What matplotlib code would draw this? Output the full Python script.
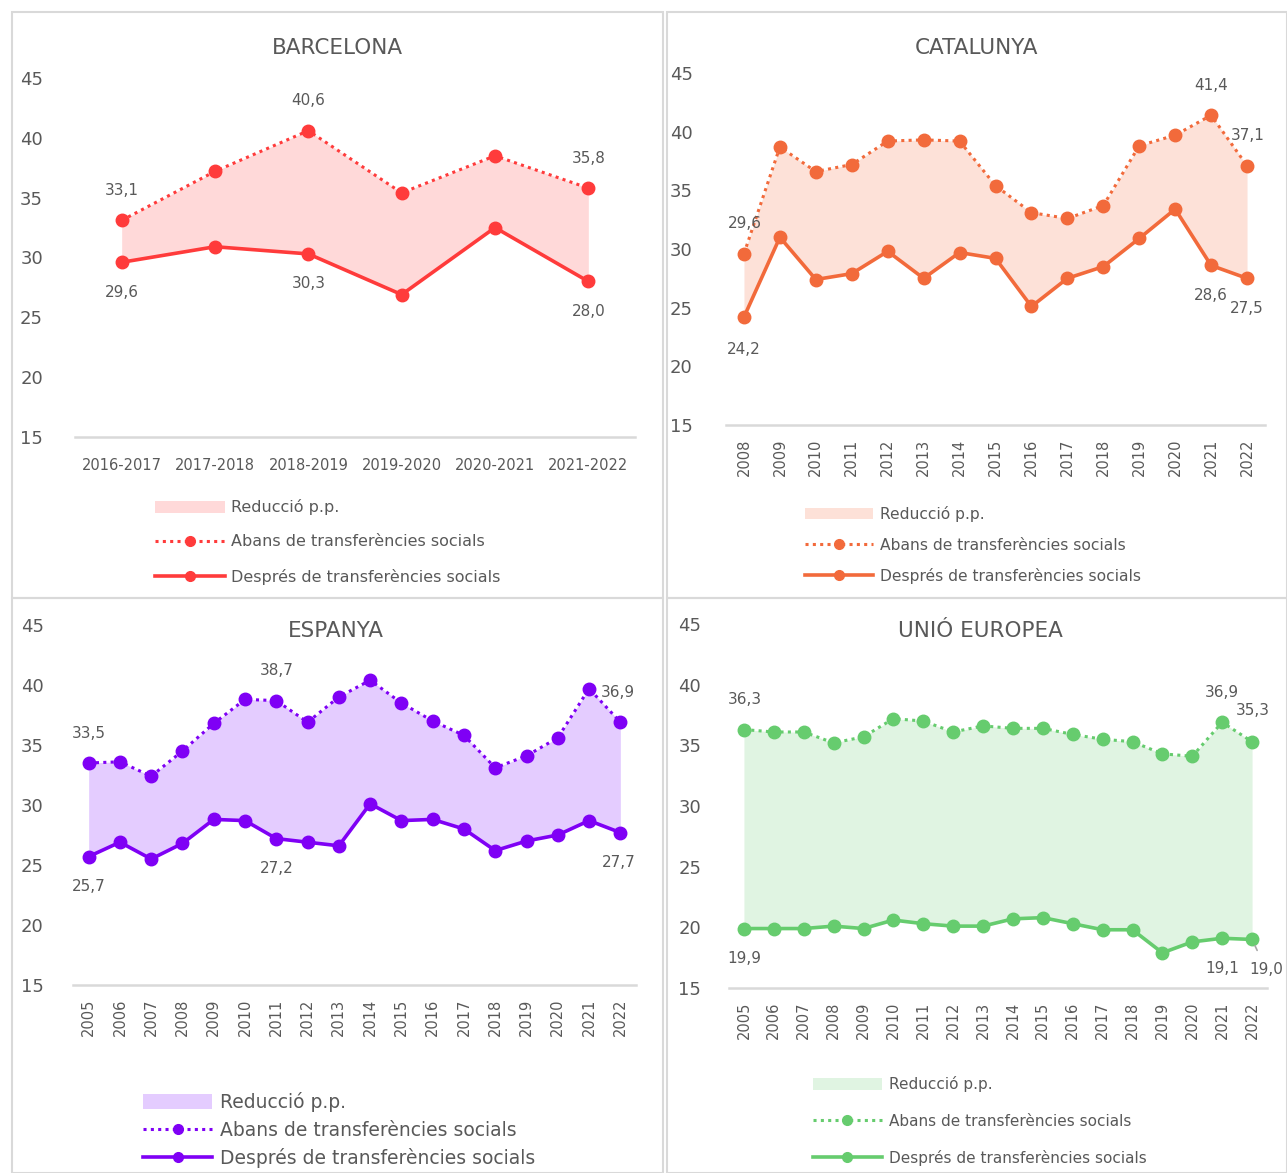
import matplotlib
matplotlib.use("Agg")
import matplotlib.pyplot as plt
from matplotlib.lines import Line2D
from matplotlib.patches import Patch, Rectangle

plt.rcParams["font.family"] = ["DejaVu Sans"]

W, H = 1287, 1173
TXT = "#595959"

# --- data ---
bcn_cats = ["2016-2017", "2017-2018", "2018-2019", "2019-2020", "2020-2021", "2021-2022"]
bcn_abans = [33.1, 37.2, 40.6, 35.4, 38.5, 35.8]
bcn_despres = [29.6, 30.9, 30.3, 26.9, 32.5, 28.0]

cat_cats = [str(y) for y in range(2008, 2023)]
cat_abans = [29.6, 38.7, 36.6, 37.2, 39.2, 39.3, 39.2, 35.4, 33.1, 32.6, 33.7, 38.8, 39.7, 41.4, 37.1]
cat_despres = [24.2, 31.0, 27.4, 27.9, 29.8, 27.5, 29.7, 29.2, 25.1, 27.5, 28.5, 30.9, 33.4, 28.6, 27.5]

esp_cats = [str(y) for y in range(2005, 2023)]
esp_abans = [33.5, 33.6, 32.4, 34.5, 36.8, 38.8, 38.7, 36.9, 39.0, 40.4, 38.5, 37.0, 35.8, 33.1, 34.1, 35.6, 39.7, 36.9]
esp_despres = [25.7, 26.9, 25.5, 26.8, 28.8, 28.7, 27.2, 26.9, 26.6, 30.1, 28.7, 28.8, 28.0, 26.2, 27.0, 27.5, 28.7, 27.7]

ue_cats = [str(y) for y in range(2005, 2023)]
ue_abans = [36.3, 36.1, 36.1, 35.2, 35.7, 37.2, 37.0, 36.1, 36.6, 36.4, 36.4, 35.9, 35.5, 35.3, 34.3, 34.1, 36.9, 35.3]
ue_despres = [19.9, 19.9, 19.9, 20.1, 19.9, 20.6, 20.3, 20.1, 20.1, 20.7, 20.8, 20.3, 19.8, 19.8, 17.9, 18.8, 19.1, 19.0]

legend_labels = ["Reducció p.p.", "Abans de transferències socials", "Després de transferències socials"]

fig = plt.figure(figsize=(W / 100, H / 100), dpi=100)


def px_axes(left, right, top, bottom):
    return fig.add_axes([left / W, 1 - bottom / H, (right - left) / W, (bottom - top) / H])


def panel(box, title, title_xy, cats, abans, despres, color, fill, rotate,
          ypad, xpad, labels, leg_xy, leg_fs, leg_sp, leg_hl, leg_tp):
    ax = px_axes(*box)
    x = list(range(len(cats)))
    ax.fill_between(x, despres, abans, color=fill, lw=0, zorder=1)
    ax.plot(x, abans, ls=(0, (1, 1.4)), color=color, lw=2.2, marker="o", ms=9, zorder=3)
    ax.plot(x, despres, ls="-", color=color, lw=2.6, marker="o", ms=9, zorder=3)
    ax.set_xlim(-0.5, len(cats) - 0.5)
    ax.set_ylim(15, 45)
    ax.set_yticks([15, 20, 25, 30, 35, 40, 45])
    ax.set_xticks(x)
    ax.set_xticklabels(cats, rotation=90 if rotate else 0, fontsize=10.5)
    ax.tick_params(axis="y", length=0, pad=ypad, labelsize=13, labelcolor=TXT)
    ax.tick_params(axis="x", length=0, pad=xpad, labelcolor=TXT)
    for s in ["top", "right", "left"]:
        ax.spines[s].set_visible(False)
    ax.spines["bottom"].set_color("#d9d9d9")
    ax.spines["bottom"].set_linewidth(1.8)
    ax.patch.set_alpha(0)
    for i, which, dy, dx in labels:
        v = abans[i] if which == "a" else despres[i]
        txt = f"{v:.1f}".replace(".", ",")
        if dx > 10:
            ax.annotate(txt, (i, v), xytext=(dx, dy), textcoords="offset pixels",
                        ha="center", va="center", fontsize=11, color=TXT,
                        arrowprops=dict(arrowstyle="-", color="#a6a6a6", lw=1.2,
                                        shrinkA=7, shrinkB=5))
        else:
            ax.annotate(txt, (i, v), xytext=(dx, dy), textcoords="offset pixels",
                        ha="center", va="center", fontsize=11, color=TXT)
    fig.text(title_xy[0] / W, 1 - title_xy[1] / H, title, ha="center", va="center",
             fontsize=15.5, color=TXT)
    handles = [
        Patch(facecolor=fill, edgecolor="none"),
        Line2D([], [], ls=(0, (1, 1.4)), color=color, lw=2.2, marker="o", ms=7),
        Line2D([], [], ls="-", color=color, lw=2.6, marker="o", ms=7),
    ]
    fig.legend(handles, legend_labels, loc="center left",
               bbox_to_anchor=(leg_xy[0] / W, 1 - leg_xy[1] / H),
               frameon=False, fontsize=leg_fs, labelspacing=leg_sp,
               handlelength=leg_hl, handleheight=0.8, handletextpad=leg_tp,
               borderpad=0, borderaxespad=0, labelcolor=TXT)
    return ax


panel((75, 635, 78, 437), "BARCELONA", (337, 48), bcn_cats, bcn_abans, bcn_despres,
      "#ff3b3b", "#ffd9d9", False, 23, 15,
      [(0, "a", 30, 0), (0, "d", -30, 0), (2, "a", 30, 0), (2, "d", -30, 0),
       (5, "a", 30, 0), (5, "d", -30, 0)],
      (155, 542), 11.5, 1.2, 4.4, 0.37)

panel((726, 1265, 73, 425), "CATALUNYA", (976, 48), cat_cats, cat_abans, cat_despres,
      "#f26a3b", "#fde1d8", True, 24, 10,
      [(0, "a", 30, 1), (0, "d", -32, 0), (13, "a", 30, 0), (14, "a", 30, 1),
       (13, "d", -30, 0), (14, "d", -30, 0)],
      (805, 545), 11.2, 1.0, 4.4, 0.4)

panel((73, 636, 625, 985), "ESPANYA", (336, 631), esp_cats, esp_abans, esp_despres,
      "#7f00f5", "#e4ccff", True, 21, 10,
      [(0, "a", 30, 0), (0, "d", -30, 0), (6, "a", 30, 0), (6, "d", -30, 0),
       (17, "a", 30, -2), (17, "d", -30, -2)],
      (143, 1130), 13.5, 0.45, 3.7, 0.43)

panel((729, 1267, 624, 988), "UNIÓ EUROPEA", (980, 631), ue_cats, ue_abans, ue_despres,
      "#66cc6e", "#e0f4e2", True, 20, 10,
      [(0, "a", 30, 1), (0, "d", -30, 0), (16, "a", 30, 0), (17, "a", 31, 1),
       (16, "d", -30, 0), (17, "d", -30, 14)],
      (813, 1121), 11, 1.4, 4.5, 0.45)

# panel borders
for (l, t, r, b) in [(12, 12, 663, 598), (667, 12, 1287, 598), (12, 598, 663, 1173), (667, 598, 1287, 1173)]:
    fig.patches.append(Rectangle((l / W, 1 - b / H), (r - l) / W, (b - t) / H,
                                 transform=fig.transFigure, fill=False,
                                 edgecolor="#d9d9d9", lw=1.5))

fig.savefig("out.png", dpi=100)
